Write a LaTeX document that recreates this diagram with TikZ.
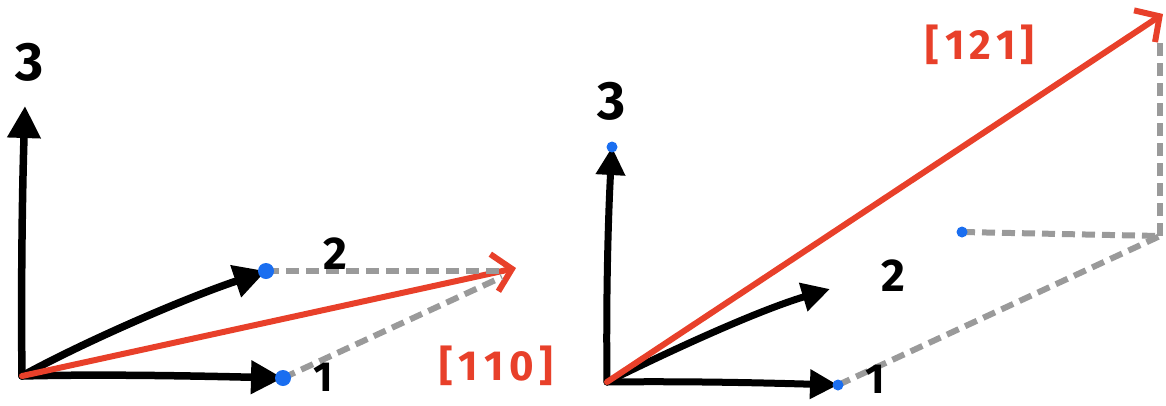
\documentclass[tikz,border=0pt]{standalone}
\usepackage{fontspec}
\setmainfont{Fira Sans}
\usetikzlibrary{arrows.meta}
\definecolor{redv}{HTML}{E8402A}
\definecolor{bluedot}{HTML}{1A6EF0}
\definecolor{grayd}{HTML}{9A9A9A}
\begin{document}
\begin{tikzpicture}[x=1pt,y=-1pt,
  axisline/.style={line width=7.5pt, line cap=round, -{Triangle[length=32pt,width=32pt]}},
  axislinesm/.style={line width=7pt, line cap=round, -{Triangle[length=28pt,width=28pt]}},
  redvec/.style={redv, line width=6pt, line cap=round, -{Straight Barb[length=18pt,width=38pt,line width=6pt]}},
  proj/.style={grayd, line width=6pt, dash pattern=on 13pt off 7pt},
  dotbig/.style={circle, fill=bluedot, inner sep=0pt, minimum size=16pt},
  dotsm/.style={circle, fill=bluedot, inner sep=0pt, minimum size=11pt},
  numlab/.style={font=\fontsize{46}{46}\selectfont\bfseries, inner sep=0pt},
  onelab/.style={font=\fontsize{42}{42}\selectfont\bfseries, inner sep=0pt},
  bignum/.style={font=\fontsize{54}{54}\selectfont\bfseries, inner sep=0pt},
  redlab/.style={text=redv, font=\fontsize{42}{42}\selectfont\bfseries, inner sep=0pt}]
\useasboundingbox (0,0) rectangle (1166,405);
% ---------- left diagram ----------
\coordinate (O1) at (22,376);
\coordinate (X1) at (283,378);
\coordinate (Y1) at (266,271);
\coordinate (Z1) at (25,106);
\coordinate (R1) at (516,268);
\coordinate (C1a) at (503,271);
\coordinate (C1b) at (502,277);
\draw[axisline] (O1) .. controls (21,300) and (22,200) .. (Z1);
\draw[axisline] (O1) .. controls (80,344) and (180,300) .. (Y1);
\draw[axisline] (O1) .. controls (100,374) and (200,376) .. (X1);
\draw[redvec] (O1) -- (R1);
\draw[proj] (Y1) -- (C1a);
\draw[proj] (X1) -- (C1b);
\node[dotbig] (d1a) at (Y1) {};
\node[dotbig] (d1b) at (X1) {};
\node[bignum] (l3a) at (30,62) {3};
\node[numlab] (l2a) at (335,254) {2};
\node[onelab] (l1a) at (323,377) {1};
\node[redlab] (v1) at (496,366) {[\hspace{6pt}1\hspace{6pt}1\hspace{6pt}0\hspace{5pt}]};
% ---------- right diagram ----------
\coordinate (O2) at (607,382);
\coordinate (X2) at (838,385);
\coordinate (Y2) at (830,289);
\coordinate (Z2) at (612,147);
\coordinate (R2) at (1163,14);
\coordinate (C2) at (1160,236);
\coordinate (D2) at (962,232);
\coordinate (T2) at (1160,42);
\draw[axislinesm] (O2) .. controls (606,300) and (608,220) .. (Z2);
\draw[axislinesm] (O2) .. controls (680,346) and (760,310) .. (Y2);
\draw[axislinesm] (O2) .. controls (690,381) and (770,383) .. (X2);
\draw[redvec] (O2) -- (R2);
\draw[proj] (X2) -- (C2);
\draw[proj] (D2) -- (C2);
\draw[proj] (C2) -- (T2);
\node[dotsm] (d2a) at (X2) {};
\node[dotsm] (d2b) at (Z2) {};
\node[dotsm] (d2c) at (D2) {};
\node[bignum] (l3b) at (612,101) {3};
\node[numlab] (l2b) at (893,276) {2};
\node[onelab] (l1b) at (875,379) {1};
\node[redlab] (v2) at (980,45) {[\hspace{6pt}1\hspace{5pt}2\hspace{5pt}1\hspace{5pt}]};
\end{tikzpicture}
\end{document}
